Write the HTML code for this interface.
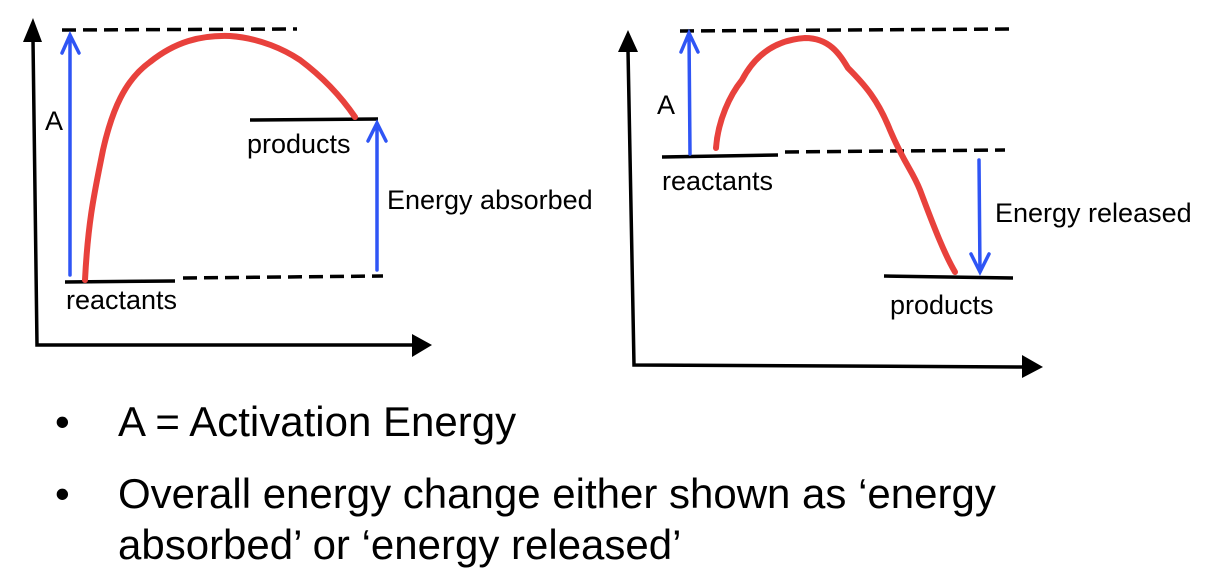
<!DOCTYPE html>
<html><head><meta charset="utf-8"><style>
html,body{margin:0;padding:0;background:#fff;width:1216px;height:572px;overflow:hidden}
svg{display:block}
</style></head><body>
<svg width="1216" height="572" viewBox="0 0 1216 572" xmlns="http://www.w3.org/2000/svg" font-family="Liberation Sans, sans-serif">
<g stroke="#000" stroke-width="3.5" fill="none">
<path d="M33 40 L37 345 L415 345"/>
<path d="M628 50 L634 365 L1025 367"/>
<path d="M62 30 L297 29" stroke-dasharray="14,7"/>
<path d="M65 282 L175 281"/>
<path d="M183 278 L383 276" stroke-dasharray="14,7"/>
<path d="M250 120 L378 119"/>
<path d="M680 31 L1010 29" stroke-dasharray="14,7"/>
<path d="M662 157 L778 155"/>
<path d="M785 152 L1005 150" stroke-dasharray="14,7"/>
<path d="M884 276 L1013 278"/>
</g>
<g fill="#000">
<polygon points="23,42 33,18 42,42"/>
<polygon points="412,334 432,345 412,357"/>
<polygon points="618,52 628,30 638,52"/>
<polygon points="1022,355 1043,367 1022,378"/>
</g>
<g stroke="#2f55f5" stroke-width="3.5" fill="none" stroke-linecap="round">
<path d="M70 275 L70 35 M62 53 L70 35 L79 53"/>
<path d="M377 270 L377 123 M368 141 L377 123 L386 141"/>
<path d="M690 154 L689 33 M681 52 L689 33 L698 52"/>
<path d="M979 160 L980 272 M971 254 L980 272 L989 254"/>
</g>
<g stroke="#e8413c" stroke-width="6" fill="none" stroke-linecap="round">
<path d="M85 280 C88 220 95 190 103 150 C112 110 125 80 150 62 C175 42 200 35 230 36 C260 38 285 50 300 60 C320 75 340 95 355 117"/>
<path d="M716 148 C718 120 730 95 742 80 C755 55 775 40 805 38 C830 38 840 55 848 68 C865 85 878 100 890 130 C905 165 912 170 920 190 C935 230 945 255 955 272"/>
</g>
<g font-size="27" fill="#000">
<text x="45" y="130">A</text>
<text x="247" y="153">products</text>
<text x="387" y="209">Energy absorbed</text>
<text x="66" y="309">reactants</text>
<text x="657" y="114">A</text>
<text x="662" y="190">reactants</text>
<text x="995" y="222">Energy released</text>
<text x="890" y="314">products</text>
</g>
<g font-size="42" fill="#000">
<text x="55" y="436">•</text>
<text x="118" y="436">A = Activation Energy</text>
<text x="55" y="508">•</text>
<text x="118" y="508">Overall energy change either shown as ‘energy</text>
<text x="118" y="559">absorbed’ or ‘energy released’</text>
</g>
</svg>
</body></html>
